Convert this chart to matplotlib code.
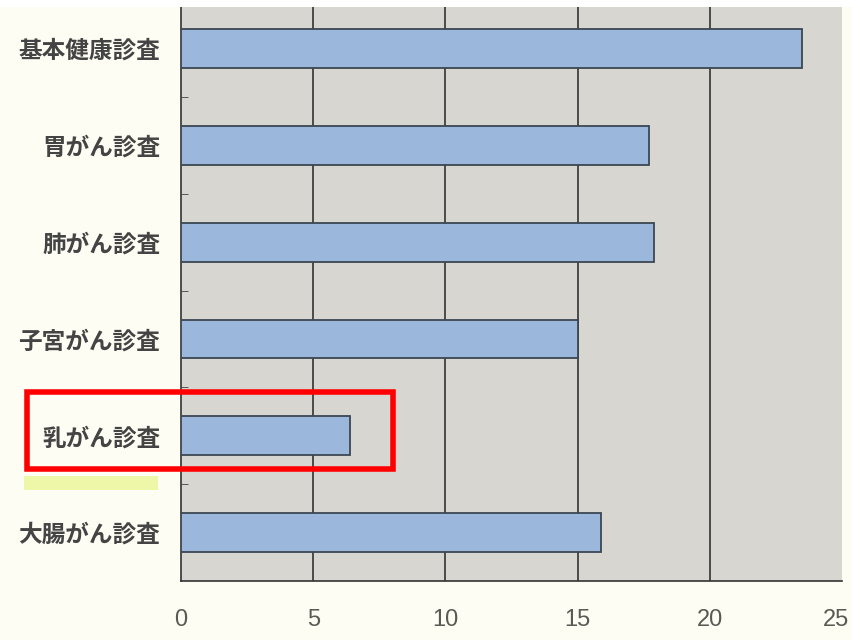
import matplotlib.pyplot as plt
import matplotlib.transforms as mtrans
from matplotlib.patches import Rectangle

plt.rcParams['font.family'] = ['Noto Sans CJK JP', 'DejaVu Sans']

# データ (受診率, %)
categories = ["基本健康診査", "胃がん診査", "肺がん診査", "子宮がん診査", "乳がん診査", "大腸がん診査"]
values = [23.5, 17.7, 17.9, 15.0, 6.4, 15.9]
x_ticks = [0, 5, 10, 15, 20, 25]
highlight = "乳がん診査"

fig = plt.figure(figsize=(8.53, 6.4), dpi=100)
fig.patch.set_facecolor("#fdfdf4")
ax = fig.add_axes([181 / 853, 59 / 640, 661 / 853, 574 / 640])
ax.set_facecolor("#d7d6d1")

ypos = list(range(len(categories)))
ax.barh(ypos, values, height=0.4, color="#9bb8dc", edgecolor="#3b4652", linewidth=1.3, zorder=3)

ax.set_xlim(0, 25)
ax.set_ylim(5.5, -0.43)
ax.set_xticks(x_ticks)
ax.set_xticklabels([str(t) for t in x_ticks], family=["Liberation Sans", "DejaVu Sans"],
                   fontsize=17, color="#5a5a55")
ax.tick_params(axis="x", length=0, pad=20)
# 右端の "25" は少し左へ
last = ax.get_xticklabels()[-1]
last.set_transform(last.get_transform() + mtrans.ScaledTranslation(-6 / 100, 0, fig.dpi_scale_trans))

ax.set_yticks(ypos)
ax.set_yticklabels(categories, fontsize=17, fontweight="bold", color="#444444")
ax.tick_params(axis="y", length=0, pad=15)
ax.set_yticks([y + 0.5 for y in ypos[:-1]], minor=True)
ax.tick_params(axis="y", which="minor", direction="in", length=5, color="#444444")

for v in x_ticks[1:-1]:
    ax.axvline(v, color="#333333", linewidth=1.2, zorder=2)

for side in ("top", "right"):
    ax.spines[side].set_visible(False)
for side in ("left", "bottom"):
    ax.spines[side].set_color("#333333")
    ax.spines[side].set_linewidth(1.2)

# 白い上端の帯
fig.patches.append(Rectangle((0, 633 / 640), 1, 7 / 640, transform=fig.transFigure,
                             facecolor="white", edgecolor="none", zorder=0))

# 強調 (乳がん診査)
fig.patches.append(Rectangle((27 / 853, (640 - 469) / 640), 366 / 853, 77 / 640,
                             transform=fig.transFigure, facecolor="none",
                             edgecolor="#ff0000", linewidth=4, zorder=10))
fig.patches.append(Rectangle((24 / 853, (640 - 490) / 640), 134 / 853, 14 / 640,
                             transform=fig.transFigure, facecolor="#eef7a8",
                             edgecolor="none", zorder=1))

fig.savefig("out.png", dpi=100, facecolor=fig.get_facecolor())
